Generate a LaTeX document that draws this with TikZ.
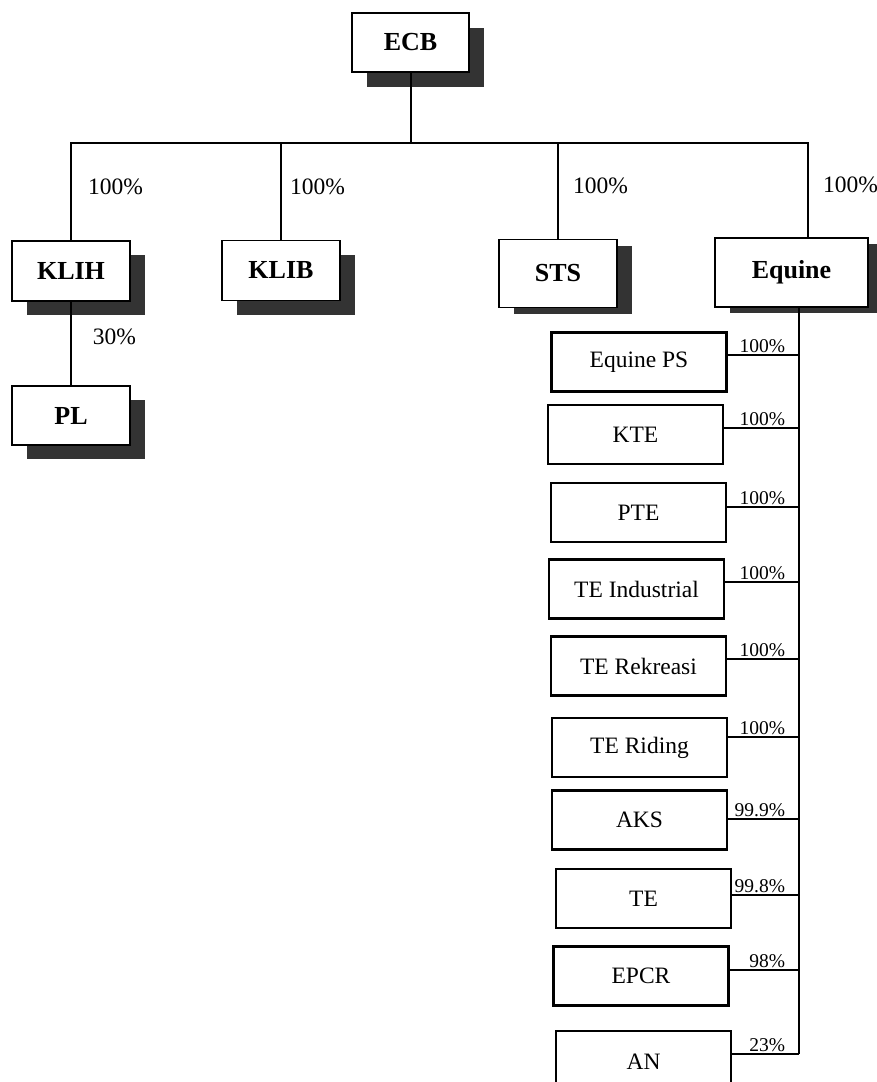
\documentclass[tikz,border=0pt]{standalone}
\usepackage{fontspec}
\setmainfont{Liberation Serif}
\usetikzlibrary{shadows, positioning}

\tikzset{
  topbox/.style={draw, line width=1.6pt, fill=white, inner sep=0pt,
    minimum width=118pt, minimum height=60pt,
    font=\fontsize{26}{30}\selectfont\bfseries,
    general shadow={fill=black!80, shadow xshift=15pt, shadow yshift=-#1}},
  topbox/.default=14pt,
  subbox/.style={draw, line width=2.6pt, fill=white, inner sep=0pt,
    minimum width=175pt, minimum height=59pt,
    font=\fontsize{23.5}{28}\selectfont},
  pct/.style={font=\fontsize{23.5}{28}\selectfont, inner sep=0pt},
  subpct/.style={font=\fontsize{19.5}{23}\selectfont, inner sep=1pt},
  wire/.style={line width=2pt}
}

\begin{document}
\begin{tikzpicture}[x=1pt, y=-1pt]
    \useasboundingbox (0,0) rectangle (877,1082);

    % Holding company
    \node[topbox=15pt, minimum width=117pt, minimum height=59pt] (ecb) at (410.5,42.5) {ECB};

    % First level
    \node[topbox] (klih) at (71,271) {KLIH};
    \node[topbox] (klib) at (281,270.5) {KLIB};
    \node[topbox=6pt, minimum height=68pt] (sts) at (558,273.5) {STS};
    \node[topbox=6pt, minimum width=153pt, minimum height=69pt] (eqn) at (791.5,272.5) {Equine};
    \node[topbox, minimum height=59pt] (pl) at (71,415.5) {PL};

    % Tree from ECB
    \coordinate (bar) at (0,143);
    \path ([xshift=16pt]eqn.north) coordinate (eqdrop);
    \draw[wire] (ecb.south) -- (ecb.south |- bar);
    \draw[wire] (klih.north) |- (eqdrop |- bar) -- (eqdrop);
    \draw[wire] (klib.north) -- (klib.north |- bar);
    \draw[wire] (sts.north) -- (sts.north |- bar);
    \draw[wire] (klih.south) -- (pl.north);

    \node[pct] (pklih) at (115.5,187) {100\%};
    \node[pct] (pklib) at (317.5,187) {100\%};
    \node[pct] (psts) at (600.5,186) {100\%};
    \node[pct] (peqn) at (850.5,185) {100\%};
    \node[pct] (ppl) at (114.5,337) {30\%};

    % Equine subsidiaries
    \node[subbox] (eps) at (639,362) {Equine PS};
    \node[subbox] (kte) at (635.5,434.5) {KTE};
    \node[subbox] (pte) at (638.5,512.5) {PTE};
    \node[subbox] (tei) at (636.5,589) {TE Industrial};
    \node[subbox] (ter) at (638.5,666) {TE Rekreasi};
    \node[subbox] (tri) at (639.5,747.5) {TE Riding};
    \node[subbox] (aks) at (639.5,820) {AKS};
    \node[subbox] (te) at (643.5,898.5) {TE};
    \node[subbox] (epcr) at (641,976) {EPCR};
    \node[subbox, minimum height=62pt] (an) at (643.5,1062) {AN};

    \coordinate (bus) at (799,0);
    \foreach \n/\d/\p in {eps/7pt/100, kte/7pt/100, pte/6pt/100, tei/7pt/100,
        ter/7pt/100, tri/11pt/100, aks/1pt/99.9, te/4pt/99.8, epcr/6pt/98, an/8pt/23}{
        \path ([yshift=\d]\n.east) coordinate (c\n);
        \draw[wire] (c\n) -- (c\n -| bus) node[subpct, anchor=south east, xshift=-12pt] {\p\%};
    }
    \draw[wire] (bus |- eqn.south) -- (bus |- can);
\end{tikzpicture}
\end{document}
